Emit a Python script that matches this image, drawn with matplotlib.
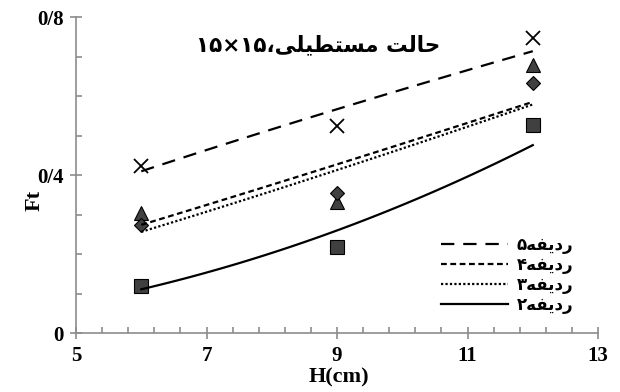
import re
import numpy as np
import matplotlib
matplotlib.use("Agg")
import matplotlib.pyplot as plt
from matplotlib.ticker import MultipleLocator, FuncFormatter

# ---- data ----
h = [6, 9, 12]
ft_5 = [0.423, 0.524, 0.747]   # x markers
ft_4 = [0.304, 0.332, 0.678]   # triangles
ft_3 = [0.273, 0.354, 0.633]   # diamonds
ft_2 = [0.119, 0.218, 0.527]   # squares
rows = ["۵", "۴", "۳", "۲"]
title_txt = "حالت مستطیلی،۱۵×۱۵"

# ---- minimal arabic shaping (matplotlib has no bidi / shaping) ----
forms = {  # iso, fin, ini, med
    "ح": "\uFEA1\uFEA2\uFEA3\uFEA4", "ا": "\uFE8D\uFE8E\uFE8D\uFE8E",
    "ل": "\uFEDD\uFEDE\uFEDF\uFEE0", "ت": "\uFE95\uFE96\uFE97\uFE98",
    "م": "\uFEE1\uFEE2\uFEE3\uFEE4", "س": "\uFEB1\uFEB2\uFEB3\uFEB4",
    "ط": "\uFEC1\uFEC2\uFEC3\uFEC4", "ی": "\uFEEF\uFEF0\uFEF3\uFEF4",
    "ر": "\uFEAD\uFEAE\uFEAD\uFEAE", "د": "\uFEA9\uFEAA\uFEA9\uFEAA",
    "ف": "\uFED1\uFED2\uFED3\uFED4", "ه": "\uFEE9\uFEEA\uFEEB\uFEEC",
}
right_only = set("ادر")

def rtl(s):
    out = []
    for i, c in enumerate(s):
        if c not in forms:
            out.append(c)
            continue
        prev = s[i - 1] if i > 0 else ""
        nxt = s[i + 1] if i + 1 < len(s) else ""
        j_prev = prev in forms and prev not in right_only
        j_next = nxt in forms and c not in right_only
        k = 3 if (j_prev and j_next) else 1 if j_prev else 2 if j_next else 0
        out.append(forms[c][k])
    vis = "".join(out)[::-1]
    # digit runs stay left to right
    return re.sub(r"[۰-۹×]+", lambda m: m.group(0)[::-1], vis)

def powfit(x, y, xx):
    # power trendline, y = a*x^b
    b, a = np.polyfit(np.log(x), np.log(y), 1)
    return np.exp(a) * xx ** b

plt.rcParams["font.family"] = ["Liberation Serif", "DejaVu Serif"]
plt.rcParams["font.weight"] = "bold"

fig = plt.figure(figsize=(6.2, 3.92), dpi=100)
ax = fig.add_axes([0.1226, 0.1505, 0.842, 0.806])

xx = np.linspace(6, 12, 100)
mk = dict(color="#404040", markeredgecolor="black", markeredgewidth=0.8,
          linestyle="none")
ax.plot(h, ft_5, "x", color="black", markersize=10, markeredgewidth=1.3, linestyle="none")
ax.plot(h, ft_4, "^", markersize=10, **mk)
ax.plot(h, ft_3, "D", markersize=7.5, **mk)
ax.plot(h, ft_2, "s", markersize=10, **mk)

styles = [(0, (6, 4)), (0, (2.6, 1.6)), (0, (1, 1)), "-"]
for ys, ls, r in zip([ft_5, ft_4, ft_3, ft_2], styles, rows):
    ax.plot(xx, powfit(h, ys, xx), color="black", lw=1.6, linestyle=ls,
            label=rtl("ردیفه" + r))

ax.set_xlim(5, 13)
ax.set_ylim(0, 0.8)
ax.xaxis.set_major_locator(MultipleLocator(2, offset=1))
ax.xaxis.set_minor_locator(MultipleLocator(0.4, offset=0.2))
ax.yaxis.set_major_locator(MultipleLocator(0.4))
ax.yaxis.set_minor_locator(MultipleLocator(0.1))
ax.yaxis.set_major_formatter(FuncFormatter(lambda v, p: "0" if v == 0 else f"{v:.1f}".replace(".", "/")))
for s in ["top", "right"]:
    ax.spines[s].set_visible(False)
for s in ["left", "bottom"]:
    ax.spines[s].set_color("#8c8c8c")
    ax.spines[s].set_linewidth(1.2)
ax.tick_params(which="major", direction="inout", length=8, width=1.2, color="#8c8c8c",
               labelsize=15, pad=5)
ax.tick_params(which="minor", direction="in", length=4, width=1.2, color="#8c8c8c")
for t in ax.get_xticklabels() + ax.get_yticklabels():
    t.set_fontweight("bold")

ax.set_xlabel("H(cm)", fontsize=16, fontweight="bold")
ax.xaxis.set_label_coords(0.504, -0.11)
ax.set_ylabel("Ft", fontsize=16, fontweight="bold")
ax.yaxis.set_label_coords(-0.06, 0.42)

ax.text(0.464, 0.91, rtl(title_txt), transform=ax.transAxes, ha="center", va="center",
        fontsize=15.5, fontweight="bold", family=["DejaVu Sans"])

leg = ax.legend(loc="lower right", bbox_to_anchor=(0.965, 0.04), frameon=False,
                handlelength=4.0, handletextpad=0.5,
                prop={"family": ["DejaVu Sans"], "weight": "bold", "size": 12},
                labelspacing=0.12, borderaxespad=0)

fig.savefig("out.png", dpi=100)
